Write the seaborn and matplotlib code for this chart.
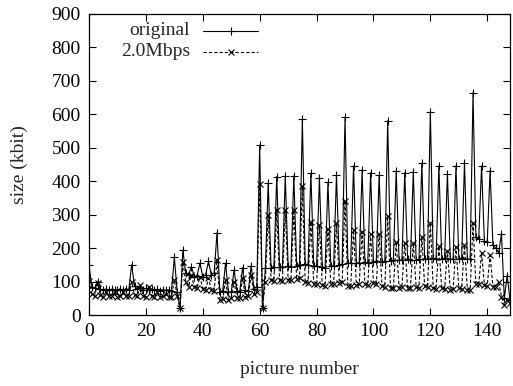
import matplotlib
matplotlib.use("Agg")
import matplotlib.pyplot as plt
import seaborn as sns
import numpy as np
import pandas as pd

# Frame sizes (kbit) per picture number
picture = list(range(149))

original = [
    150, 84, 80, 100, 77, 75, 78, 74, 77, 76, 75, 78, 74, 79, 76,
    150, 86, 78, 82, 76, 80, 74, 78, 75, 77, 73, 76, 74, 75, 72,
    172, 70, 20, 194, 125, 120, 145, 115, 118, 155, 115, 120, 160, 120, 125,
    246, 70, 72, 155, 70, 68, 135, 72, 70, 142, 74, 72, 148, 78, 85,
    508, 20, 140, 396, 142, 145, 414, 145, 143, 416, 146, 144, 416, 148, 150,
    585, 152, 150, 424, 148, 146, 409, 145, 140, 397, 148, 146, 419, 150, 152,
    591, 155, 154, 446, 156, 155, 434, 157, 156, 426, 158, 160, 419, 158, 160,
    581, 162, 164, 432, 163, 165, 426, 166, 165, 429, 164, 166, 455, 166, 168,
    608, 170, 168, 446, 167, 169, 422, 168, 166, 446, 168, 170, 455, 168, 166,
    665, 234, 226, 446, 220, 218, 432, 209, 200, 186, 242, 50, 118, 45,
]

mbps_2_0 = [
    103, 62, 58, 95, 60, 55, 68, 56, 58, 70, 55, 57, 68, 56, 58,
    100, 60, 56, 90, 58, 55, 85, 57, 54, 70, 55, 56, 62, 54, 55,
    105, 58, 20, 159, 100, 85, 120, 85, 80, 115, 78, 75, 110, 75, 72,
    165, 45, 48, 105, 46, 50, 100, 50, 52, 110, 55, 58, 120, 62, 70,
    392, 20, 100, 299, 105, 102, 314, 104, 103, 314, 106, 104, 314, 108, 110,
    386, 98, 96, 279, 94, 92, 269, 90, 88, 257, 92, 94, 274, 96, 98,
    342, 88, 86, 254, 90, 92, 249, 94, 90, 242, 95, 92, 242, 88, 85,
    296, 82, 80, 219, 82, 84, 216, 80, 82, 216, 84, 82, 234, 86, 84,
    276, 80, 78, 206, 80, 78, 192, 76, 78, 204, 80, 78, 209, 76, 75,
    274, 93, 92, 186, 90, 88, 179, 85, 84, 100, 55, 30, 45, 35,
]

x_ticks = [0, 20, 40, 60, 80, 100, 120, 140]
y_ticks = [0, 100, 200, 300, 400, 500, 600, 700, 800, 900]
series_labels = ["original", "2.0Mbps"]

FS = 14
DASH = (0, (3.0, 1.8))

sns.set_style("ticks")
plt.rcParams["font.family"] = ["Liberation Serif", "DejaVu Serif"]
plt.rcParams["font.size"] = FS

df = pd.DataFrame({"picture": picture, "original": original, "mbps": mbps_2_0})

fig = plt.figure(figsize=(5.13, 3.86), dpi=100)
ax = fig.add_axes([89 / 513, 1 - 315 / 386, 421 / 513, 301 / 386])

line_kw = dict(color="black", linewidth=0.8)
sns.lineplot(data=df, x="picture", y="original", ax=ax, marker="+",
             markersize=5.5, markeredgewidth=0.8, markeredgecolor="black",
             **line_kw)
sns.lineplot(data=df, x="picture", y="mbps", ax=ax, marker="x",
             markersize=3.8, markeredgewidth=0.8, markeredgecolor="black",
             linestyle=DASH, **line_kw)

ax.set_xlim(0, 148)
ax.set_ylim(0, 900)
ax.set_xticks(x_ticks)
ax.set_yticks(y_ticks)
ax.tick_params(direction="in", length=5, width=0.8, top=True, right=True,
               labelsize=FS, pad=6, colors="black")
for s in ax.spines.values():
    s.set_visible(True)
    s.set_linewidth(0.9)
    s.set_color("black")

ax.set_xlabel("picture number", fontsize=FS, labelpad=15)
ax.set_ylabel("size (kbit)", fontsize=FS, labelpad=17)

# Key in the upper left: label, then a sample of the line with its marker
key_rows = [(0.944, "+", 5.5, "-"), (0.874, "x", 3.8, DASH)]
for (ky, mk, ms, ls), label in zip(key_rows, series_labels):
    ax.text(0.240, ky, label, transform=ax.transAxes, ha="right",
            va="center", fontsize=FS)
    ax.plot([0.271, 0.401], [ky, ky], transform=ax.transAxes, color="black",
            linewidth=0.8, linestyle=ls)
    ax.plot([0.337], [ky], transform=ax.transAxes, color="black",
            marker=mk, markersize=ms, markeredgewidth=0.8, linestyle="none")

fig.savefig("out.png", dpi=100)
